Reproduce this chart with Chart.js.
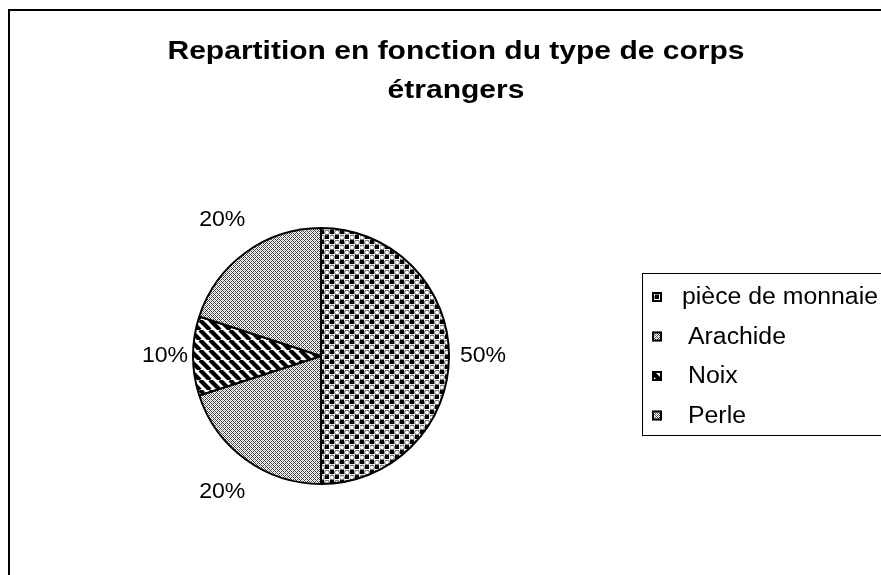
<!DOCTYPE html>
<html lang="fr">
<head>
    <meta charset="UTF-8">
    <title>Repartition en fonction du type de corps étrangers</title>
    <script src="https://cdn.jsdelivr.net/npm/chart.js"></script>
    <style>
        body { margin: 0; padding: 0; background: #ffffff; }
        #wrap { width: 881px; height: 575px; position: relative; }
    </style>
</head>
<body>
    <div id="wrap"><canvas id="pieChart" width="881" height="575"></canvas></div>

    <script>
        // données
        const categories = ['pièce de monnaie', 'Arachide', 'Noix', 'Perle'];
        const percentages = [50, 20, 10, 20];
        const labelsText = ['50%', '20%', '10%', '20%'];
        const titleLines = ['Repartition en fonction du type de corps', 'étrangers'];

        // motifs noir et blanc
        function makeTile(size, draw) {
            const c = document.createElement('canvas');
            c.width = size; c.height = size;
            const g = c.getContext('2d');
            g.fillStyle = '#fff';
            g.fillRect(0, 0, size, size);
            draw(g);
            return c;
        }

        const tmp = document.createElement('canvas').getContext('2d');

        const coinTile = makeTile(10, g => {
            g.fillStyle = '#000';
            g.fillRect(0, 0, 4, 4);
            g.fillRect(5, 5, 4, 4);
            g.strokeStyle = '#555';
            g.lineWidth = 1;
            g.beginPath(); g.arc(7, 2.5, 2.4, 0, Math.PI * 2); g.stroke();
            g.beginPath(); g.arc(2, 7.5, 2.4, 0, Math.PI * 2); g.stroke();
        });

        const hatchTile = makeTile(4, g => {
            for (let x = 0; x < 4; x++) {
                for (let y = 0; y < 4; y++) {
                    if ((x + y) % 4 === 0 || (x - y + 4) % 4 === 0) {
                        g.fillStyle = '#444';
                        g.fillRect(x, y, 1, 1);
                    } else if ((x + y) % 2 === 0) {
                        g.fillStyle = '#bbb';
                        g.fillRect(x, y, 1, 1);
                    }
                }
            }
        });

        const stripeTile = makeTile(10, g => {
            g.strokeStyle = '#000';
            g.lineWidth = 4.2;
            for (let k = -10; k <= 20; k += 10) {
                g.beginPath(); g.moveTo(k, 0); g.lineTo(k + 10, 10); g.stroke();
            }
        });

        const patterns = [
            tmp.createPattern(coinTile, 'repeat'),
            tmp.createPattern(hatchTile, 'repeat'),
            tmp.createPattern(stripeTile, 'repeat'),
            tmp.createPattern(hatchTile, 'repeat')
        ];

        // texte étiré horizontalement comme dans l'original
        function stretchText(c, text, x, y, sx, align) {
            c.save();
            c.translate(x, y);
            c.scale(sx, 1);
            c.textAlign = align;
            c.fillText(text, 0, 0);
            c.restore();
        }

        // cadre, titre, étiquettes et légende
        const decorPlugin = {
            id: 'decor',
            beforeDraw(chart) {
                const c = chart.ctx;
                c.save();
                c.fillStyle = '#fff';
                c.fillRect(0, 0, chart.width, chart.height);
                c.strokeStyle = '#000';
                c.lineWidth = 2;
                c.beginPath();
                c.moveTo(9, 580);
                c.lineTo(9, 10);
                c.lineTo(890, 10);
                c.stroke();
                c.fillStyle = '#000';
                c.textBaseline = 'middle';
                c.font = 'bold 25px "Liberation Sans", Arial, sans-serif';
                const w = c.measureText(titleLines[0]).width;
                const sx = 577 / w;
                stretchText(c, titleLines[0], 456, 52, sx, 'center');
                stretchText(c, titleLines[1], 456, 91, sx, 'center');
                c.restore();
            },
            afterDraw(chart) {
                const c = chart.ctx;
                const meta = chart.getDatasetMeta(0);
                c.save();
                c.fillStyle = '#000';
                c.font = '22px "Liberation Sans", Arial, sans-serif';
                c.textBaseline = 'middle';
                const offsets = [34, 40, 28, 40];
                meta.data.forEach((arc, i) => {
                    const mid = (arc.startAngle + arc.endAngle) / 2;
                    const r = arc.outerRadius + offsets[i];
                    const x = arc.x + Math.cos(mid) * r;
                    const y = arc.y + Math.sin(mid) * r;
                    stretchText(c, labelsText[i], x, y, 1.05, 'center');
                });

                // légende
                c.strokeStyle = '#000';
                c.lineWidth = 1;
                c.strokeRect(642.5, 273.5, 260, 162);
                c.font = '23px "Liberation Sans", Arial, sans-serif';
                const lw = c.measureText(categories[0]).width;
                const lsx = 196 / lw;
                categories.forEach((name, i) => {
                    const y = 297 + i * 39.5;
                    c.fillStyle = patterns[i];
                    c.fillRect(652, y - 5, 10, 10);
                    c.lineWidth = 2;
                    c.strokeRect(653, y - 4, 8, 8);
                    c.fillStyle = '#000';
                    stretchText(c, name, i === 0 ? 682 : 688, y + 1, lsx, 'left');
                });
                c.restore();
            }
        };

        const ctx = document.getElementById('pieChart').getContext('2d');
        const pieChart = new Chart(ctx, {
            type: 'pie',
            data: {
                labels: categories,
                datasets: [{
                    data: percentages,
                    backgroundColor: patterns,
                    borderColor: '#000',
                    borderWidth: 2
                }]
            },
            options: {
                responsive: false,
                animation: false,
                layout: { padding: { left: 192, right: 431, top: 227, bottom: 90 } },
                plugins: {
                    legend: { display: false },
                    tooltip: { enabled: false }
                }
            },
            plugins: [decorPlugin]
        });
    </script>
</body>
</html>
